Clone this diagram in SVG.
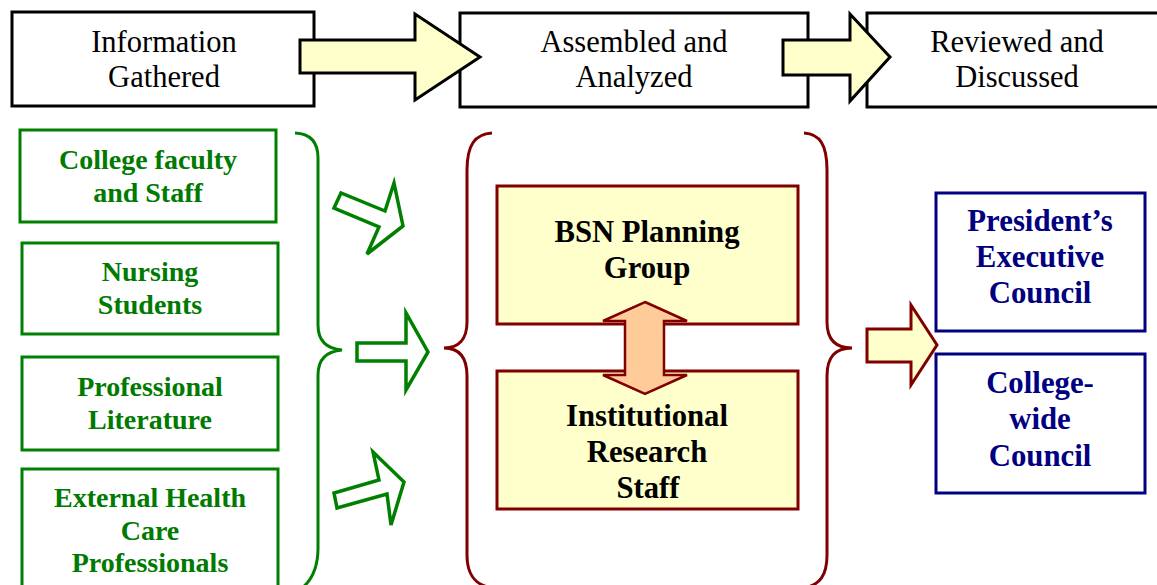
<svg xmlns="http://www.w3.org/2000/svg" width="1157" height="585" viewBox="0 0 1157 585">
<style>
text{font-family:'Liberation Serif','Times New Roman',serif;text-anchor:middle}
.top{fill:#fff;stroke:#000;stroke-width:3}
.tt{font-size:30.5px;fill:#000}
.gbox{fill:#fff;stroke:#008000;stroke-width:3}
.gt{font-size:28px;font-weight:bold;fill:#007a00}
.ybox{fill:#ffffcc;stroke:#800000;stroke-width:3}
.yt{font-size:30.7px;font-weight:bold;fill:#000}
.bbox{fill:#fff;stroke:#000080;stroke-width:3}
.bt{font-size:30.8px;font-weight:bold;fill:#000080}
.yarrow{fill:#ffffcc;stroke:#000;stroke-width:3}
.garrow{fill:#fff;stroke:#008000;stroke-width:3.5}
.gbrace{fill:none;stroke:#008000;stroke-width:3}
.rbrace{fill:none;stroke:#800000;stroke-width:3}
</style>
<g id="info-gathered"><rect class="top" x="12" y="12" width="302" height="94"/><text class="tt" x="164" y="52">Information</text><text class="tt" x="164" y="86.5">Gathered</text></g>
<g id="assembled"><rect class="top" x="460" y="13" width="348" height="94"/><text class="tt" x="634" y="52">Assembled and</text><text class="tt" x="634" y="86.5">Analyzed</text></g>
<g id="reviewed"><rect class="top" x="867" y="13" width="300" height="94"/><text class="tt" x="1017" y="52">Reviewed and</text><text class="tt" x="1017" y="86.5">Discussed</text></g>
<g id="faculty"><rect class="gbox" x="20" y="130" width="256" height="92"/><text class="gt" x="148" y="168.5">College faculty</text><text class="gt" x="148" y="201.5">and Staff</text></g>
<g id="students"><rect class="gbox" x="22" y="243" width="256" height="91"/><text class="gt" x="150" y="280.5">Nursing</text><text class="gt" x="150" y="313.5">Students</text></g>
<g id="literature"><rect class="gbox" x="22" y="357" width="256" height="93"/><text class="gt" x="150" y="395.5">Professional</text><text class="gt" x="150" y="428.5">Literature</text></g>
<g id="external"><rect class="gbox" x="22" y="469" width="256" height="130"/><text class="gt" x="150" y="506.5">External Health</text><text class="gt" x="150" y="539.5">Care</text><text class="gt" x="150" y="571.5">Professionals</text></g>
<g id="bsn"><rect class="ybox" x="497" y="186" width="301" height="138"/><text class="yt" x="647" y="242">BSN Planning</text><text class="yt" x="647" y="278">Group</text></g>
<g id="research"><rect class="ybox" x="497" y="371" width="301" height="138"/><text class="yt" x="647" y="426">Institutional</text><text class="yt" x="647" y="462">Research</text><text class="yt" x="648" y="498">Staff</text></g>
<g id="president"><rect class="bbox" x="936" y="193" width="209" height="138"/><text class="bt" x="1040" y="231">President’s</text><text class="bt" x="1040" y="267">Executive</text><text class="bt" x="1040" y="303">Council</text></g>
<g id="collegewide"><rect class="bbox" x="936" y="354" width="209" height="139"/><text class="bt" x="1040" y="393">College-</text><text class="bt" x="1040" y="429">wide</text><text class="bt" x="1040" y="466">Council</text></g>
<g id="connectors">
<polygon class="yarrow" points="300,40 415,40 415,14 480,57 415,100 415,73 300,73"/>
<polygon class="yarrow" points="783,40 850,40 850,14 890,57 850,101 850,75 783,75"/>
<path class="gbrace" d="M295,133 Q318,134 318,158 L318,325 Q318,348 342,350 Q318,352 318,375 L318,548 Q318,575 302,588"/>
<polygon class="garrow" points="334,208 341,193 385,211 394,183 403,226 367,254 379,227"/>
<polygon class="garrow" points="357,343 406,343 406,313 428,352 406,390 406,361 357,361"/>
<polygon class="garrow" points="334,493 337,508 387,494 391,525 404,482 373,452 379,480"/>
<path class="rbrace" d="M492,133 C475,134 467,145 467,170 L467,322 C467,340 458,348 444,348 C458,348 467,356 467,376 L467,555 C467,575 475,585 492,588"/>
<path class="rbrace" d="M804,133 C820,134 827,145 827,170 L827,322 C827,340 836,348 852,348 C836,348 827,356 827,376 L827,555 C827,575 820,585 804,588"/>
<polygon points="645,302 687,321 664,321 664,375 687,375 645,394 603,375 625,375 625,321 603,321" fill="#ffcc99" stroke="#800000" stroke-width="2.5"/>
<polygon points="867,329 911,329 911,305 937,345 911,385 911,362 867,362" fill="#ffffcc" stroke="#800000" stroke-width="3"/>
</g>
</svg>
